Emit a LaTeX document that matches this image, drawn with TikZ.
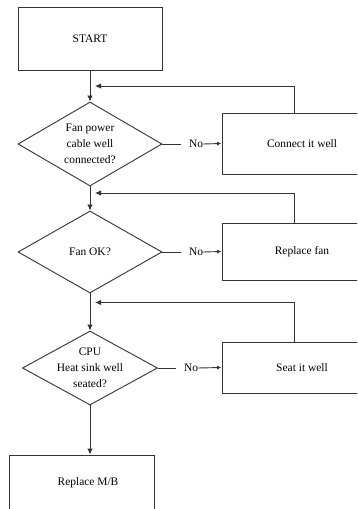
\documentclass[tikz,border=0pt]{standalone}
\usepackage{fontspec}
\setmainfont{Liberation Serif}
\usetikzlibrary{shapes.geometric,arrows.meta}
\definecolor{ln}{HTML}{333333}
\tikzset{
  every node/.style={font=\fontsize{11.5}{16}\selectfont, text=black},
  box/.style={draw=ln, line width=0.9bp, rectangle, inner sep=0pt},
  dia/.style={draw=ln, line width=0.9bp, diamond, inner sep=0pt},
  conn/.style={draw=ln, line width=0.9bp},
  arr/.style={conn, -{Latex[length=6bp,width=5.5bp]}},
  sarr/.style={conn, -{Latex[length=4.5bp,width=4bp]}},
  nolab/.style={inner sep=0pt}
}
\begin{document}
\begin{tikzpicture}[x=1bp,y=-1bp]
\clip (0,0) rectangle (357,509);
\useasboundingbox (0,0) rectangle (357,509);

% main column
\node[box, minimum width=144bp, minimum height=63bp] (start) at (90,38.5) {START};
\node[dia, minimum width=144bp, minimum height=84bp,
      label={[align=center]center:Fan power\\cable well\\connected?}] (d1) at (90,144) {};
\node[dia, minimum width=144bp, minimum height=82bp,
      label={center:Fan OK?}] (d2) at (90,252) {};
\node[dia, minimum width=135bp, minimum height=74bp,
      label={[align=center]center:CPU\\Heat sink well\\seated?}] (d3) at (90,368) {};
\node[box, minimum width=145bp, minimum height=56bp] (mb) at (81.5,483) {\hspace{13bp}Replace M/B};

% right column
\node[box, minimum width=160bp, minimum height=61bp] (c1) at (302,143.5) {Connect it well};
\node[box, minimum width=160bp, minimum height=57bp] (c2) at (302,251.5) {Replace fan};
\node[box, minimum width=160bp, minimum height=51bp] (c3) at (302,367.5) {Seat it well};

% No labels
\node[nolab] (no1) at (196,144) {No};
\node[nolab] (no2) at (196,252) {No};
\node[nolab] (no3) at (191,368) {No};

% feedback end points
\coordinate (f1) at (95,86);
\coordinate (f2) at (95,193);
\coordinate (f3) at (95,302.5);

% vertical flow
\draw[arr] (start.south) -- (d1.north);
\draw[arr] (d1.south) -- (d2.north);
\draw[arr] (d2.south) -- (d3.north);
\draw[arr] (d3.south) -- (d3.south |- mb.north);

% No branches
\draw[conn] (d1.east) -- ([xshift=-8bp]no1.west);
\draw[sarr] (no1.east) -- (c1.west);
\draw[conn] (d2.east) -- ([xshift=-8bp]no2.west);
\draw[sarr] (no2.east) -- (c2.west);
\draw[conn] (d3.east) -- ([xshift=-8bp]no3.west);
\draw[sarr] (no3.east) -- (c3.west);

% feedback loops
\draw[arr] ([xshift=-8bp]c1.north) |- (f1);
\draw[arr] ([xshift=-8bp]c2.north) |- (f2);
\draw[arr] ([xshift=-8bp]c3.north) |- (f3);
\end{tikzpicture}
\end{document}
